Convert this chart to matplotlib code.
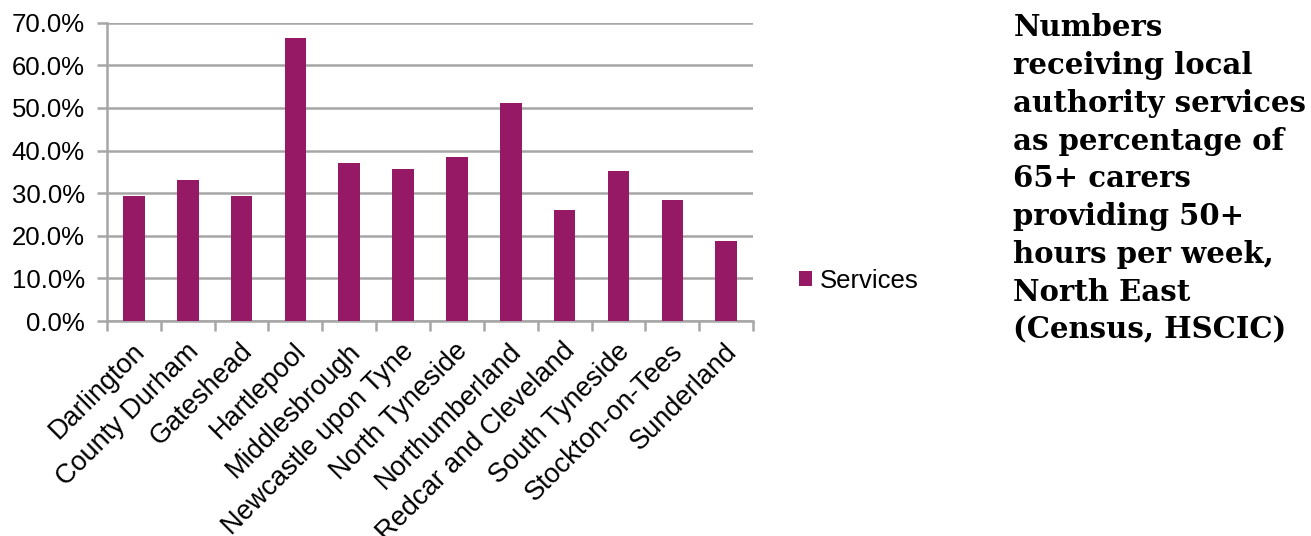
import matplotlib.pyplot as plt
from matplotlib.ticker import FuncFormatter
from matplotlib.transforms import ScaledTranslation

areas = [
    "Darlington", "County Durham", "Gateshead", "Hartlepool", "Middlesbrough",
    "Newcastle upon Tyne", "North Tyneside", "Northumberland",
    "Redcar and Cleveland", "South Tyneside", "Stockton-on-Tees", "Sunderland",
]
services_pct = [29.4, 33.2, 29.3, 66.3, 37.2, 35.7, 38.4, 51.2, 26.0, 35.1, 28.4, 18.7]

title = ("Numbers\nreceiving local\nauthority services\nas percentage of\n"
         "65+ carers\nproviding 50+\nhours per week,\nNorth East\n(Census, HSCIC)")

BAR = "#961966"
GRID = "#a6a6a6"


def main():
    plt.rcParams["font.family"] = ["Liberation Sans", "DejaVu Sans"]
    fig = plt.figure(figsize=(13.11, 5.36), dpi=100)
    ax = fig.add_axes([0.0816, 0.401, 0.4928, 0.5566])

    x = list(range(len(areas)))
    ax.bar(x, services_pct, width=0.4, color=BAR, label="Services", zorder=3)

    ax.set_xlim(-0.5, len(areas) - 0.5)
    ax.set_ylim(0, 70)
    ax.set_yticks(range(0, 71, 10))
    ax.yaxis.set_major_formatter(FuncFormatter(lambda v, _: f"{v:.1f}%"))
    ax.yaxis.grid(True, color=GRID, linewidth=1.8, zorder=0)

    # category labels at centres, tick marks on the boundaries
    ax.set_xticks(x)
    ax.set_xticklabels(areas, rotation=45, ha="right", va="center",
                       rotation_mode="anchor")
    ax.set_xticks([i - 0.5 for i in range(len(areas) + 1)], minor=True)
    ax.tick_params(axis="x", which="major", length=0, pad=19, labelsize=19.5)
    ax.tick_params(axis="x", which="minor", length=7, width=1.8, color=GRID)
    ax.tick_params(axis="y", length=7, width=1.8, color=GRID, labelsize=18.5, pad=9)
    shift = ScaledTranslation(5 / 72, 0, fig.dpi_scale_trans)
    for lbl in ax.get_xticklabels():
        lbl.set_transform(lbl.get_transform() + shift)

    for side in ("top", "right"):
        ax.spines[side].set_visible(False)
    for side in ("left", "bottom"):
        ax.spines[side].set_color(GRID)
        ax.spines[side].set_linewidth(1.8)

    fig.legend(loc="center left", bbox_to_anchor=(0.592, 0.476), frameon=False,
               fontsize=18.5, handlelength=0.5, handleheight=0.5, handletextpad=0.3)

    fig.text(0.773, 0.975, title, ha="left", va="top", fontsize=21,
             fontweight="bold", family="DejaVu Serif", linespacing=1.38)

    fig.savefig("out.png", dpi=100)


if __name__ == "__main__":
    main()
